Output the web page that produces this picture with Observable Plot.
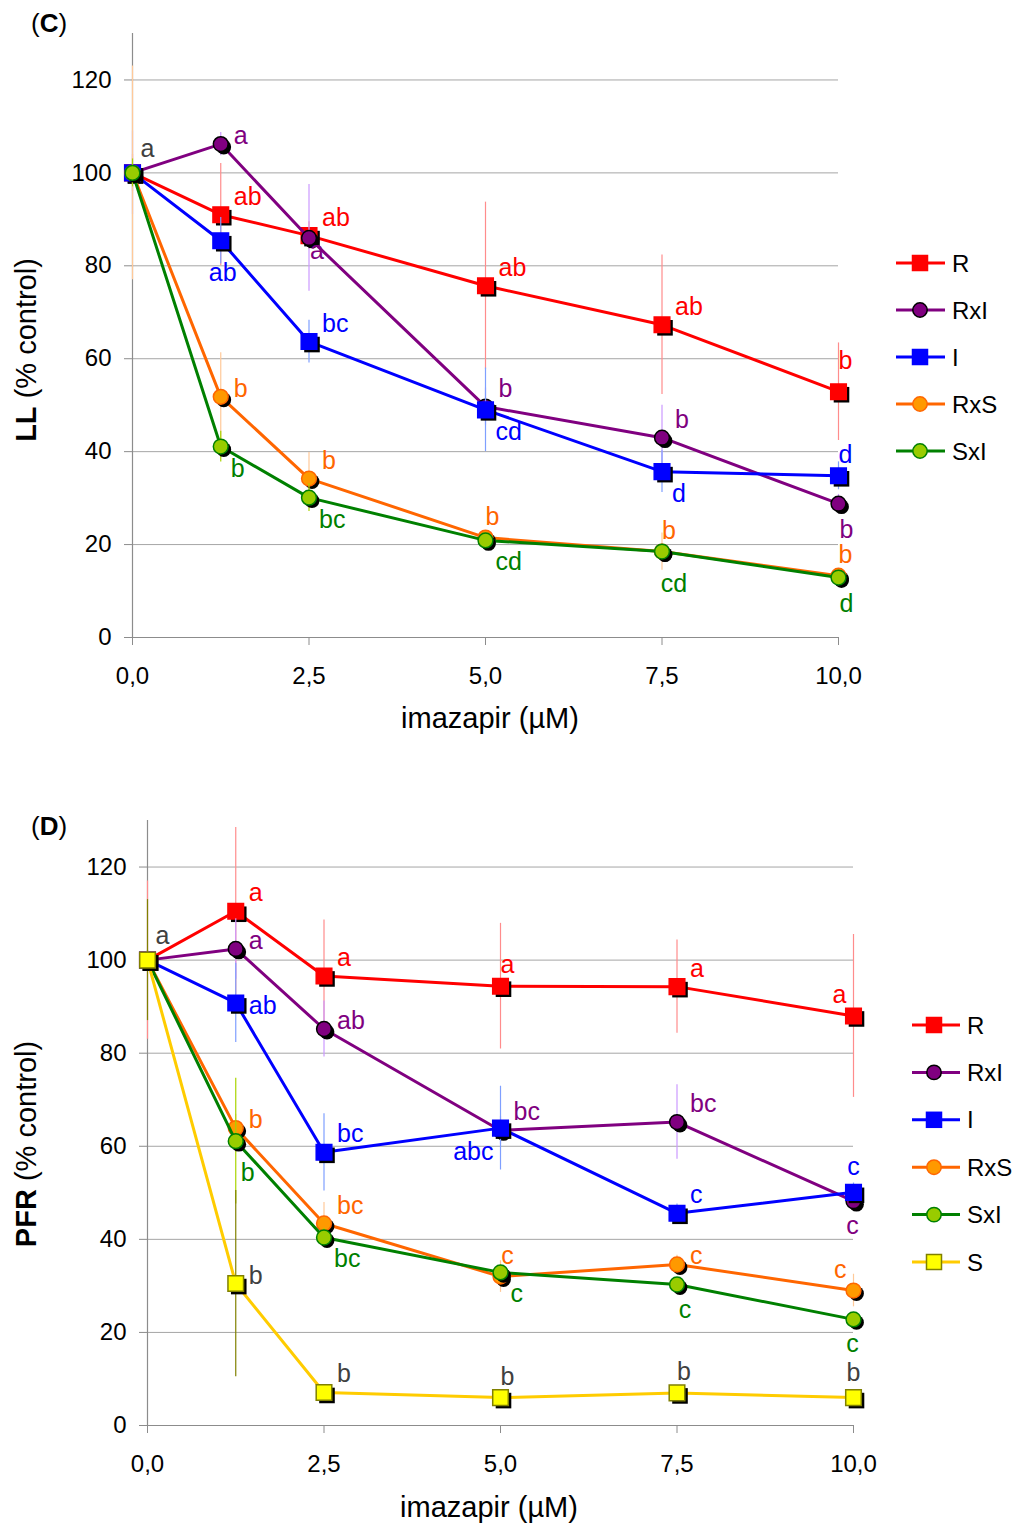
<!DOCTYPE html>
<html>
<head>
<meta charset="utf-8">
<script src="https://cdn.jsdelivr.net/npm/d3@7"></script>
<script src="https://cdn.jsdelivr.net/npm/@observablehq/plot@0.6"></script>
<style>
  html, body { margin: 0; padding: 0; background: #fff; }
  #chart svg { display: block; }
</style>
</head>
<body>
<div id="chart"></div>
<script>
// Imazapyr doses (µM) and axis ticks
const doses = [0, 1.25, 2.5, 5, 7.5, 10];
const xTicks = [0, 2.5, 5, 7.5, 10];
const yTicks = [0, 20, 40, 60, 80, 100, 120];
const controlLetter = "a";

// (C) LL, % of untreated control: means, error half-widths, letters, label placement
const llR = [100, 91, 86.5, 75.7, 67.3, 52.9];
const llRErr = [4, 11, 3, 18, 15, 10.5];
const llRLetters = ["", "ab", "ab", "ab", "ab", "b"];
const llRPlaces = ["", "ne", "ne", "ne", "ne", "nn"];

const llRxI = [100, 106.2, 86, 49.7, 43, 28.8];
const llRxIErr = [9, 2.5, 11.5, 4, 7, 2];
const llRxILetters = ["", "a", "a", "b", "b", "b"];
const llRxIPlaces = ["", "e", "u", "ne", "ne", "s"];

const llI = [100, 85.4, 63.7, 49, 35.7, 34.8];
const llIErr = [2, 5, 4.6, 9, 4.5, 3];
const llILetters = ["", "ab", "bc", "cd", "d", "d"];
const llIPlaces = ["", "sd", "ne", "se", "se", "n"];

const llRxS = [100, 51.8, 34.2, 21.5, 18.5, 13.3];
const llRxSErr = [23, 9.5, 5.6, 1.5, 4, 1.5];
const llRxSLetters = ["", "b", "b", "b", "b", "b"];
const llRxSPlaces = ["", "e", "ne", "n", "n", "n"];

const llSxI = [100, 41.1, 30.1, 20.9, 18.5, 12.9];
const llSxIErr = [3, 3.3, 3, 1, 1, 1];
const llSxILetters = ["", "b", "bc", "cd", "cd", "d"];
const llSxIPlaces = ["", "se", "se", "se", "ss", "s"];

// (D) PFR, % of untreated control
const pfrR = [100, 110.5, 96.6, 94.4, 94.3, 88];
const pfrRErr = [17, 18, 12, 13.5, 10, 17.5];
const pfrRLetters = ["", "a", "a", "a", "a", "a"];
const pfrRPlaces = ["", "ne", "ne", "n", "ne", "nw"];

const pfrRxI = [100, 102.4, 85.2, 63.4, 65.2, 48.2];
const pfrRxIErr = [2, 6.5, 6, 3, 8, 2];
const pfrRxILetters = ["", "a", "ab", "bc", "bc", "c"];
const pfrRxIPlaces = ["", "e", "e", "ne", "ne", "sc"];

const pfrI = [100, 90.8, 58.7, 63.9, 45.6, 50.1];
const pfrIErr = [2, 8.5, 8.3, 9, 2, 2];
const pfrILetters = ["", "ab", "bc", "abc", "c", "c"];
const pfrIPlaces = ["", "r", "ne", "sw", "ne", "nc"];

const pfrRxS = [100, 63.9, 43.4, 32, 34.6, 29];
const pfrRxSErr = [2, 3, 4.5, 3.4, 2, 3.5];
const pfrRxSLetters = ["", "b", "bc", "c", "c", "c"];
const pfrRxSPlaces = ["", "e", "ne", "n", "e", "nw"];

const pfrSxI = [100, 61.1, 40.4, 32.9, 30.3, 22.8];
const pfrSxIErr = [2, 13.5, 2, 1.5, 1.5, 1.5];
const pfrSxILetters = ["", "b", "bc", "c", "c", "c"];
const pfrSxIPlaces = ["", "ss", "se", "se", "s", "sc"];

const pfrS = [100, 30.5, 7.1, 6, 7, 6];
const pfrSErr = [13, 20, 1, 1, 1, 1];
const pfrSLetters = ["", "b", "b", "b", "b", "b"];
const pfrSPlaces = ["", "e", "ne", "n", "n", "nc"];

// Series appearance
const STYLE = {
  R:   {line: "#ff0000", fill: "#ff0000", edge: "#ff0000", symbol: "square", bar: "#ff8c8c", text: "#ff0000"},
  RxI: {line: "#800080", fill: "#800080", edge: "#000000", symbol: "circle", bar: "#cc99ff", text: "#800080"},
  I:   {line: "#0000ff", fill: "#0000ff", edge: "#0000ff", symbol: "square", bar: "#7f9fff", text: "#0000ff"},
  RxS: {line: "#ff6600", fill: "#ff9900", edge: "#ff6600", symbol: "circle", bar: "#ffc999", text: "#ff6600"},
  SxI: {line: "#008000", fill: "#99cc00", edge: "#008000", symbol: "circle", bar: "#a8d400", text: "#008000"},
  S:   {line: "#ffcc00", fill: "#ffff00", edge: "#808000", symbol: "square", bar: "#808000", text: "#404040"}
};
const LABEL_GRAY = "#404040";

// Letter placement relative to its point
const PLACE = {
  nl: {anchor: "start",  dx: 8,  dy: -24},
  ne: {anchor: "start",  dx: 13, dy: -18},
  e:  {anchor: "start",  dx: 13, dy: -8},
  r:  {anchor: "start",  dx: 13, dy: 3},
  se: {anchor: "start",  dx: 10, dy: 22},
  n:  {anchor: "middle", dx: 7,  dy: -21},
  nc: {anchor: "middle", dx: 0,  dy: -25},
  nn: {anchor: "middle", dx: 7,  dy: -31},
  s:  {anchor: "middle", dx: 8,  dy: 26},
  sc: {anchor: "middle", dx: -1, dy: 25},
  sd: {anchor: "middle", dx: 2,  dy: 32},
  ss: {anchor: "middle", dx: 12, dy: 32},
  u:  {anchor: "middle", dx: 8,  dy: 13},
  nw: {anchor: "end",    dx: -7, dy: -21},
  sw: {anchor: "end",    dx: -7, dy: 24}
};

const FONT = "'Liberation Sans', Arial, Helvetica, sans-serif";
const fmtX = d => d.toFixed(1).replace(".", ",");
const SQUARE_R = 8.8;  // symbol radius giving a ~15.6px square
const CIRCLE_R = 7.4;

function seriesRows(s) {
  return doses.map((x, i) => ({x, y: s.values[i], e: s.errors[i], letter: s.letters[i], place: s.places[i]}));
}

function buildPanel(cfg) {
  const {series, height, margin} = cfg;
  const marks = [
    Plot.gridY({ticks: yTicks.filter(t => t > 0), stroke: "#a6a6a6", strokeOpacity: 1, strokeWidth: 1}),
    Plot.ruleX([0], {stroke: "#8c8c8c", strokeWidth: 1.2}),
    Plot.ruleY([0], {stroke: "#8c8c8c", strokeWidth: 1.2}),
    Plot.axisY({ticks: yTicks, tickSize: 8, tickPadding: 13, fontSize: 24, stroke: "#8c8c8c", fill: "#000", label: null}),
    Plot.axisX({ticks: xTicks, tickSize: 8, tickPadding: 21, fontSize: 24, stroke: "#8c8c8c", fill: "#000", tickFormat: fmtX, label: null})
  ];

  const built = series.map(s => ({s, st: STYLE[s.key], rows: seriesRows(s)}));

  for (const {st, rows} of built) {
    const r = st.symbol === "square" ? SQUARE_R : CIRCLE_R;
    marks.push(
      Plot.ruleX(rows, {x: "x", y1: d => d.y - d.e, y2: d => d.y + d.e, stroke: st.bar, strokeWidth: 1.2}),
      Plot.line(rows, {x: "x", y: "y", stroke: st.line, strokeWidth: 3, strokeLinejoin: "round"}),
      Plot.dot(rows, {x: "x", y: "y", symbol: st.symbol, r, fill: "#000", dx: 3, dy: 3}),
      Plot.dot(rows, {x: "x", y: "y", symbol: st.symbol, r, fill: st.fill, stroke: st.edge, strokeWidth: 1.5})
    );
  }

  // significance letters
  for (const {st, rows} of built) {
    const groups = d3.group(rows.filter(d => d.letter), d => d.place);
    for (const [code, items] of groups) {
      const p = PLACE[code];
      marks.push(Plot.text(items, {
        x: "x", y: "y", text: "letter", fill: st.text, fontSize: 25,
        textAnchor: p.anchor, dx: p.dx, dy: p.dy
      }));
    }
  }
  const ctrl = PLACE.nl;
  marks.push(Plot.text([{x: doses[0], y: series[0].values[0]}], {
    x: "x", y: "y", text: () => controlLetter, fill: LABEL_GRAY, fontSize: 25,
    textAnchor: ctrl.anchor, dx: ctrl.dx, dy: ctrl.dy
  }));

  const node = Plot.plot({
    width: 1013,
    height,
    marginTop: margin.top, marginRight: margin.right, marginBottom: margin.bottom, marginLeft: margin.left,
    x: {domain: [0, 10]},
    y: {domain: [0, 130]},
    style: {fontFamily: FONT, background: "#fff", color: "#000", overflow: "visible"},
    marks
  });

  const svg = d3.select(node);

  // panel tag, e.g. (C)
  const tag = svg.append("text")
    .attr("x", cfg.tag.x).attr("y", cfg.tag.y).attr("text-anchor", "start")
    .attr("font-family", FONT).attr("font-size", 26).attr("fill", "#000");
  tag.append("tspan").text("(");
  tag.append("tspan").attr("font-weight", "bold").text(cfg.tag.letter);
  tag.append("tspan").text(")");

  // y-axis title
  const yt = svg.append("text")
    .attr("transform", `translate(${cfg.yTitle.x},${cfg.yTitle.y}) rotate(-90)`)
    .attr("text-anchor", "middle").attr("dominant-baseline", "central")
    .attr("font-family", FONT).attr("font-size", 29).attr("fill", "#000");
  yt.append("tspan").attr("font-weight", "bold").text(cfg.yTitle.bold);
  yt.append("tspan").text(cfg.yTitle.rest);

  // x-axis title
  svg.append("text")
    .attr("x", cfg.xTitle.x).attr("y", cfg.xTitle.y)
    .attr("text-anchor", "middle").attr("dominant-baseline", "central")
    .attr("font-family", FONT).attr("font-size", 29).attr("fill", "#000")
    .text("imazapir (µM)");

  // legend
  const lg = svg.append("g");
  const L = cfg.legend;
  built.forEach(({s, st}, i) => {
    const y = L.y0 + i * L.step;
    const g = lg.append("g");
    g.append("line").attr("x1", L.x0).attr("x2", L.x1).attr("y1", y).attr("y2", y)
      .attr("stroke", st.line).attr("stroke-width", 3);
    if (st.symbol === "square") {
      g.append("rect").attr("x", L.mx - 7.5).attr("y", y - 7.5).attr("width", 15).attr("height", 15)
        .attr("fill", st.fill).attr("stroke", st.edge).attr("stroke-width", 1.5);
    } else {
      g.append("circle").attr("cx", L.mx).attr("cy", y).attr("r", 7.2)
        .attr("fill", st.fill).attr("stroke", st.edge).attr("stroke-width", 1.5);
    }
    g.append("text").attr("x", L.tx).attr("y", y).attr("text-anchor", "start")
      .attr("dominant-baseline", "central")
      .attr("font-family", FONT).attr("font-size", 24).attr("fill", "#000").text(s.key);
  });

  return node;
}

const panelC = buildPanel({
  height: 762,
  margin: {top: 33, right: 175, bottom: 125, left: 132},
  series: [
    {key: "R",   values: llR,   errors: llRErr,   letters: llRLetters,   places: llRPlaces},
    {key: "RxI", values: llRxI, errors: llRxIErr, letters: llRxILetters, places: llRxIPlaces},
    {key: "I",   values: llI,   errors: llIErr,   letters: llILetters,   places: llIPlaces},
    {key: "RxS", values: llRxS, errors: llRxSErr, letters: llRxSLetters, places: llRxSPlaces},
    {key: "SxI", values: llSxI, errors: llSxIErr, letters: llSxILetters, places: llSxIPlaces}
  ],
  tag: {letter: "C", x: 31, y: 32},
  yTitle: {bold: "LL", rest: " (% control)", x: 26, y: 350},
  xTitle: {x: 490, y: 718},
  legend: {x0: 896, x1: 945, mx: 920, tx: 952, y0: 263, step: 47}
});

const panelD = buildPanel({
  height: 762,
  margin: {top: 58, right: 160, bottom: 99, left: 147},
  series: [
    {key: "R",   values: pfrR,   errors: pfrRErr,   letters: pfrRLetters,   places: pfrRPlaces},
    {key: "RxI", values: pfrRxI, errors: pfrRxIErr, letters: pfrRxILetters, places: pfrRxIPlaces},
    {key: "I",   values: pfrI,   errors: pfrIErr,   letters: pfrILetters,   places: pfrIPlaces},
    {key: "RxS", values: pfrRxS, errors: pfrRxSErr, letters: pfrRxSLetters, places: pfrRxSPlaces},
    {key: "SxI", values: pfrSxI, errors: pfrSxIErr, letters: pfrSxILetters, places: pfrSxIPlaces},
    {key: "S",   values: pfrS,   errors: pfrSErr,   letters: pfrSLetters,   places: pfrSPlaces}
  ],
  tag: {letter: "D", x: 31, y: 73},
  yTitle: {bold: "PFR", rest: " (% control)", x: 26, y: 382},
  xTitle: {x: 489, y: 745},
  legend: {x0: 912, x1: 960, mx: 934, tx: 967, y0: 263, step: 47.4}
});

document.getElementById("chart").append(panelC, panelD);
</script>
</body>
</html>
